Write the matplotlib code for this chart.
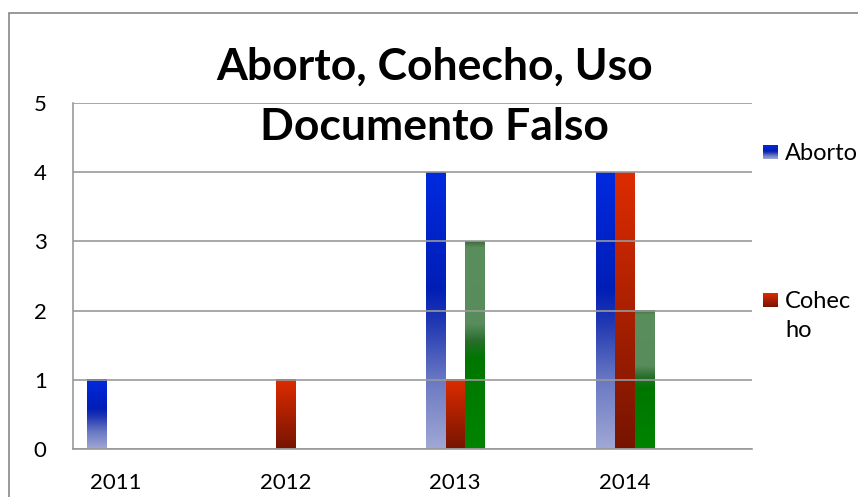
import numpy as np
import matplotlib
matplotlib.use('Agg')
import matplotlib.pyplot as plt
from matplotlib.patches import Rectangle

years = ['2011', '2012', '2013', '2014']
series = ['Aborto', 'Cohecho', 'Uso Documento Falso']
aborto = [1, 0, 4, 4]
cohecho = [0, 1, 1, 4]
uso_doc = [0, 0, 3, 2]
title_lines = ['Aborto, Cohecho, Uso', 'Documento Falso']
legend_labels = [['Aborto'], ['Cohec', 'ho']]

plt.rcParams['font.family'] = ['Lato', 'DejaVu Sans']

W, H = 858, 497
fig = plt.figure(figsize=(W / 100, H / 100), dpi=100)

def px(x, y):
    return x / W, 1 - y / H

# gradient stops: (fraction of bar height from bottom, rgb)
grad = {
    'Aborto': [(0.0, (160, 168, 212)), (0.25, (105, 120, 195)), (0.45, (35, 58, 178)),
               (0.58, (0, 30, 182)), (1.0, (0, 42, 224))],
    'Cohecho': [(0.0, (118, 20, 0)), (0.5, (170, 32, 0)), (1.0, (222, 44, 0))],
    'Uso Documento Falso': [(0.0, (0, 132, 0)), (0.44, (0, 118, 0)), (0.52, (40, 110, 45)),
                            (0.6, (88, 140, 90)), (0.97, (90, 142, 92)), (1.0, (60, 110, 60))],
}

def grad_img(stops, n=200):
    t = np.linspace(0, 1, n)
    pos = [s[0] for s in stops]
    img = np.zeros((n, 1, 3))
    for c in range(3):
        img[:, 0, c] = np.interp(t, pos, [s[1][c] / 255 for s in stops])
    return img

ax = fig.add_axes([73 / W, 1 - 449 / H, 679 / W, 346 / H])
x = np.arange(len(years))
bw = 19.3 / 170
vals = [aborto, cohecho, uso_doc]
for k, (name, v) in enumerate(zip(series, vals)):
    bars = ax.bar(x + (k - 1) * bw, v, bw, color='none', zorder=2)
    img = grad_img(grad[name])
    for b in bars:
        h = b.get_height()
        if h <= 0:
            continue
        ax.imshow(img, extent=(b.get_x(), b.get_x() + bw, 0, h), origin='lower',
                  aspect='auto', interpolation='bilinear', zorder=2)

ax.set_xlim(-42.5 / 170, 3 + 127 / 170)
ax.set_ylim(0, 5)
ax.set_yticks(range(6))
ax.set_xticks(x)
ax.set_xticklabels(years)
ax.yaxis.grid(True, color='#999999', lw=1.2, zorder=3)
ax.set_axisbelow(False)
for s in ['top', 'right']:
    ax.spines[s].set_visible(False)
for s in ['left', 'bottom']:
    ax.spines[s].set_color('#999999')
    ax.spines[s].set_linewidth(1.2)
ax.tick_params(length=0, labelsize=16, colors='black')
ax.tick_params(axis='y', pad=19)
ax.tick_params(axis='x', pad=17)

# title
fig.text(*px(435, 80), title_lines[0], ha='center', va='baseline',
         fontsize=32, fontweight='bold')
fig.text(*px(434, 140), title_lines[1], ha='center', va='baseline',
         fontsize=32, fontweight='bold')

# legend (manual, chart cropped on the right)
leg_y = [145, 293]
for name, lines, y in zip(series, legend_labels, leg_y):
    lax = fig.add_axes([763 / W, 1 - (y + 14) / H, 15 / W, 14 / H])
    lax.imshow(grad_img(grad[name]), origin='lower', aspect='auto', interpolation='bilinear')
    lax.axis('off')
    for i, t in enumerate(lines):
        fig.text(*px(785, y + 15 + 29 * i), t, ha='left', va='baseline', fontsize=17)

# outer chart border
fig.patches.append(Rectangle((9 / W, -0.1), 1.0, 1 - 13 / H + 0.1, transform=fig.transFigure,
                             fill=False, edgecolor='#888888', lw=1.2))

fig.savefig('out.png', dpi=100)
